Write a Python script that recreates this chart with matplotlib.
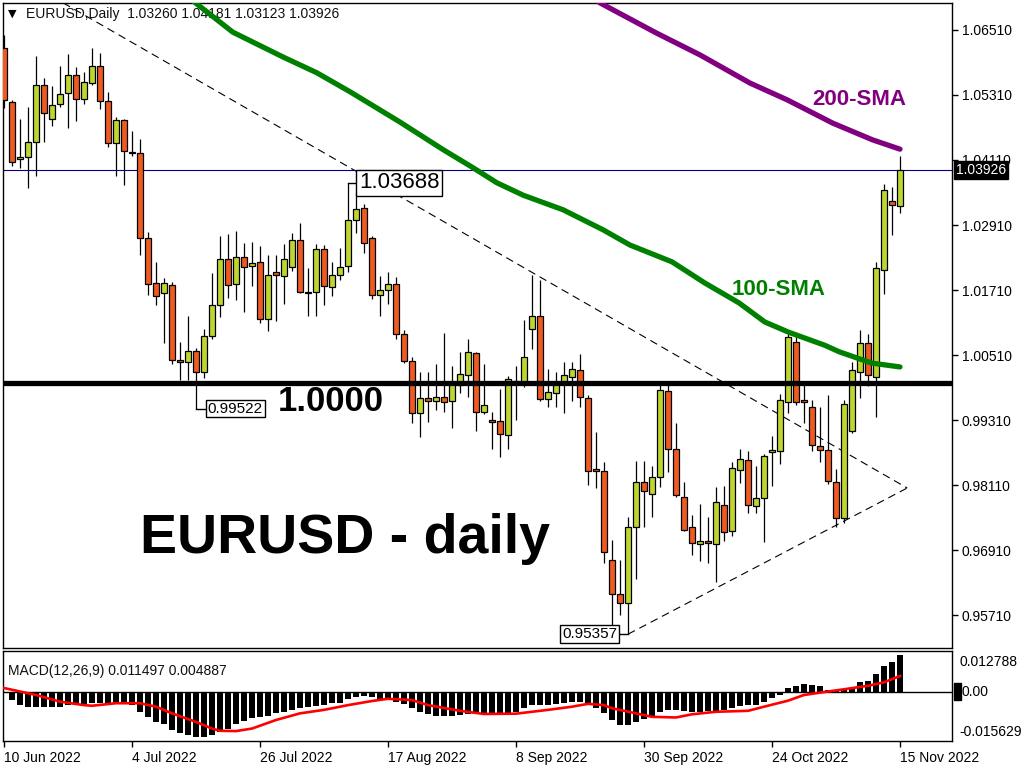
import numpy as np
import matplotlib
matplotlib.use('Agg')
import matplotlib.pyplot as plt
from matplotlib.transforms import blended_transform_factory

plt.rcParams['font.family'] = ['Liberation Sans', 'DejaVu Sans']

# ---- daily OHLC, 10 Jun 2022 .. 15 Nov 2022 (bar index 0..112) ----
opens = [1.0618, 1.0518, 1.0413, 1.0417, 1.0444, 1.0549, 1.0487, 1.0514, 1.0535, 1.0568,
         1.0524, 1.0553, 1.0585, 1.0520, 1.0442, 1.0485, 1.0425, 1.0424, 1.0267, 1.0184,
         1.0166, 1.0180, 1.0042, 1.0038, 1.0058, 1.0020, 1.0086, 1.0143, 1.0228, 1.0182,
         1.0232, 1.0215, 1.0223, 1.0118, 1.0204, 1.0197, 1.0214, 1.0263, 1.0168, 1.0167,
         1.0247, 1.0177, 1.0199, 1.0215, 1.0300, 1.0322, 1.0267, 1.0162, 1.0171, 1.0182,
         1.0090, 1.0040, 0.9944, 0.9972, 0.9966, 0.9974, 0.9966, 0.9996, 1.0014, 1.0055,
         0.9946, 0.9931, 0.9929, 0.9903, 1.0003, 0.9998, 1.0099, 1.0123, 0.9970, 0.9981,
         1.0001, 1.0011, 1.0023, 0.9972, 0.9841, 0.9837, 0.9673, 0.9610, 0.9593, 0.9734,
         0.9817, 0.9795, 0.9826, 0.9985, 0.9878, 0.9789, 0.9734, 0.9702, 0.9708, 0.9702,
         0.9774, 0.9726, 0.9839, 0.9857, 0.9772, 0.9787, 0.9872, 0.9874, 0.9964, 1.0075,
         0.9968, 0.9955, 0.9883, 0.9876, 0.9817, 0.9750, 0.9911, 1.0020, 1.0073, 1.0011,
         1.0208, 1.0335, 1.03260]
highs = [1.0642, 1.0522, 1.0487, 1.0509, 1.0603, 1.0562, 1.0548, 1.0585, 1.0607, 1.0583,
         1.0573, 1.0618, 1.0609, 1.0537, 1.0490, 1.0487, 1.0465, 1.0450, 1.0278, 1.0223,
         1.0193, 1.0186, 1.0075, 1.0123, 1.0064, 1.0099, 1.0202, 1.0271, 1.0274, 1.0280,
         1.0258, 1.0260, 1.0252, 1.0236, 1.0236, 1.0256, 1.0276, 1.0295, 1.0212, 1.0256,
         1.0254, 1.0223, 1.0249, 1.03688, 1.0350, 1.0330, 1.0271, 1.0197, 1.0204, 1.0195,
         1.0097, 1.0047, 1.0020, 1.0020, 1.0034, 1.0092, 1.0031, 1.0057, 1.0081, 1.0057,
         1.0034, 0.9946, 0.9988, 1.0012, 1.0031, 1.0116, 1.0199, 1.0190, 1.0025, 1.0020,
         1.0038, 1.0038, 1.0053, 0.9977, 0.9909, 0.9854, 0.9710, 0.9673, 0.9752, 0.9855,
         0.9855, 0.9846, 0.9999, 0.9999, 0.9926, 0.9817, 0.9756, 0.9776, 0.9752, 0.9807,
         0.9809, 0.9854, 0.9878, 0.9874, 0.9846, 0.9868, 0.9902, 0.9979, 1.0095, 1.0092,
         0.9998, 0.9968, 0.9955, 0.9977, 0.9841, 0.9968, 1.0038, 1.0097, 1.0090, 1.0223,
         1.0367, 1.0361, 1.04181]
lows = [1.0507, 1.0400, 1.0396, 1.0359, 1.0382, 1.0444, 1.0474, 1.0509, 1.0470, 1.0483,
        1.0514, 1.0549, 1.0505, 1.0435, 1.0382, 1.0365, 1.0418, 1.0236, 1.0162, 1.0143,
        1.0073, 1.0034, 1.0005, 1.0005, 0.99522, 1.0009, 1.0081, 1.0121, 1.0156, 1.0153,
        1.0130, 1.0178, 1.0110, 1.0095, 1.0114, 1.0145, 1.0206, 1.0165, 1.0123, 1.0123,
        1.0143, 1.0160, 1.0190, 1.0204, 1.0276, 1.0239, 1.0154, 1.0123, 1.0145, 1.0081,
        1.0036, 0.9926, 0.9900, 0.9927, 0.9950, 0.9946, 0.9916, 0.9981, 0.9974, 0.9911,
        0.9942, 0.9878, 0.9863, 0.9878, 0.9931, 0.9992, 1.0062, 0.9966, 0.9955, 0.9955,
        0.9944, 0.9966, 0.9955, 0.9811, 0.9806, 0.9667, 0.9553, 0.9571, 0.95357, 0.9638,
        0.9734, 0.9752, 0.9807, 0.9835, 0.9789, 0.9726, 0.9682, 0.9671, 0.9667, 0.9632,
        0.9708, 0.9717, 0.9815, 0.9759, 0.9759, 0.9706, 0.9809, 0.9850, 0.9944, 0.9959,
        0.9926, 0.9874, 0.9854, 0.9813, 0.9734, 0.9741, 0.9907, 0.9972, 0.9994, 0.9937,
        1.0164, 1.0273, 1.03123]
closes = [1.0522, 1.0407, 1.0417, 1.0444, 1.0549, 1.0498, 1.0513, 1.0533, 1.0568, 1.0524,
          1.0555, 1.0585, 1.0520, 1.0442, 1.0485, 1.0428, 1.0424, 1.0267, 1.0182, 1.0160,
          1.0184, 1.0042, 1.0038, 1.0058, 1.0020, 1.0086, 1.0143, 1.0228, 1.0180, 1.0232,
          1.0214, 1.0221, 1.0118, 1.0199, 1.0199, 1.0228, 1.0263, 1.0167, 1.0166, 1.0247,
          1.0178, 1.0199, 1.0214, 1.0300, 1.0321, 1.0258, 1.0162, 1.0171, 1.0182, 1.0090,
          1.0040, 0.9944, 0.9972, 0.9966, 0.9974, 0.9964, 1.0000, 1.0016, 1.0057, 0.9946,
          0.9959, 0.9927, 0.9905, 1.0007, 0.9999, 1.0047, 1.0123, 0.9970, 0.9983, 1.0000,
          1.0014, 1.0025, 0.9974, 0.9837, 0.9837, 0.9687, 0.9610, 0.9593, 0.9734, 0.9817,
          0.9800, 0.9826, 0.9986, 0.9878, 0.9793, 0.9728, 0.9704, 0.9708, 0.9704, 0.9780,
          0.9724, 0.9842, 0.9859, 0.9774, 0.9787, 0.9865, 0.9876, 0.9968, 1.0084, 0.9964,
          0.9964, 0.9885, 0.9876, 0.9818, 0.9750, 0.9961, 1.0023, 1.0073, 1.0014, 1.0212,
          1.0356, 1.0328, 1.03926]

# moving averages (read at selected bars)
sma100_idx = [22, 23.5, 28.6, 34.9, 39.1, 43.25, 49.5, 54.9, 58.6, 61.6, 64.9, 69.9, 74.9, 78.25,
              83.5, 87.6, 91.9, 95.1, 98.1, 102.6, 104.4, 108.5, 112]
sma100 = [1.0716, 1.0706, 1.0647, 1.0601, 1.0572, 1.0537, 1.0481, 1.0430, 1.0397, 1.0369, 1.0346,
          1.0319, 1.0282, 1.0254, 1.0223, 1.0184, 1.0147, 1.0112, 1.0093, 1.0069, 1.0057, 1.0036,
          1.0029]
sma200_idx = [73.5, 74.5, 81.6, 87.0, 93.25, 97.9, 103.6, 108.6, 112]
sma200 = [1.0712, 1.0701, 1.0645, 1.0605, 1.0553, 1.0522, 1.0479, 1.0448, 1.0431]

# MACD(12,26,9) main histogram
macd_main = [-0.0003, -0.0027, -0.0043, -0.0048, -0.0048, -0.0048, -0.0048, -0.0048, -0.0043, -0.0043,
             -0.0043, -0.0035, -0.0035, -0.0035, -0.0035, -0.0039, -0.0043, -0.0064, -0.0080, -0.0096,
             -0.0103, -0.0122, -0.0131, -0.0138, -0.0144, -0.0144, -0.0136, -0.0128, -0.0117, -0.0103,
             -0.0094, -0.0085, -0.0082, -0.0078, -0.0069, -0.0064, -0.0058, -0.0053, -0.0048, -0.0045,
             -0.0043, -0.0037, -0.0035, -0.0024, -0.0016, -0.0014, -0.0018, -0.0023, -0.0027, -0.0032,
             -0.0039, -0.0053, -0.0064, -0.0071, -0.0078, -0.0078, -0.0078, -0.0074, -0.0071, -0.0071,
             -0.0071, -0.0071, -0.0071, -0.0071, -0.0064, -0.0053, -0.0043, -0.0043, -0.0043, -0.0039,
             -0.0035, -0.0032, -0.0032, -0.0037, -0.0053, -0.0069, -0.0090, -0.0106, -0.0106, -0.0096,
             -0.0088, -0.0078, -0.0064, -0.0058, -0.0058, -0.0062, -0.0064, -0.0064, -0.0062, -0.0061,
             -0.0058, -0.0053, -0.0046, -0.0043, -0.0043, -0.0032, -0.0021, -0.0011, 0.0011, 0.0018,
             0.0024, 0.0021, 0.0016, 0.0005, 0.0003, 0.0005, 0.0007, 0.0030, 0.0034, 0.0055,
             0.0080, 0.0094, 0.0115]
signal_idx = [0, 2, 4, 7, 10, 11, 14, 17, 19, 21, 24, 26, 27, 29, 31, 34, 37, 40, 43, 46, 48, 51, 53, 57,
              60, 64, 68, 71, 73, 75, 76, 79, 81, 84, 86, 89, 93, 95, 98, 100, 103, 105, 108, 110, 112]
signal = [0.0011, 0.0000, -0.0011, -0.0032, -0.0043, -0.0045, -0.0037, -0.0037, -0.0048, -0.0069,
          -0.0096, -0.0117, -0.0124, -0.0125, -0.0117, -0.0090, -0.0069, -0.0058, -0.0043, -0.0030,
          -0.0023, -0.0027, -0.0043, -0.0061, -0.0071, -0.0070, -0.0058, -0.0048, -0.0039, -0.0043,
          -0.0053, -0.0069, -0.0080, -0.0082, -0.0072, -0.0064, -0.0061, -0.0048, -0.0029, -0.0011,
          0.0000, 0.0007, 0.0018, 0.0029, 0.0049]

# drawn objects: trendlines (bar, price)
upper_trend = ([7.4, 112.9], [1.0701, 0.98055])
lower_trend = ([78, 112.9], [0.95357, 0.98055])
support = 1.0000
last_price = 1.03926

price_ticks = [1.06510, 1.05310, 1.04110, 1.02910, 1.01710, 1.00510, 0.99310, 0.98110, 0.96910, 0.95710]
date_ticks = [0, 16, 32, 48, 64, 80, 96, 112]
date_labels = ['10 Jun 2022', '4 Jul 2022', '26 Jul 2022', '17 Aug 2022', '8 Sep 2022',
               '30 Sep 2022', '24 Oct 2022', '15 Nov 2022']

bull_col = '#bfd630'
bear_col = '#f05a22'

fig = plt.figure(figsize=(10.24, 7.68), dpi=100)
ax = fig.add_axes([3 / 1024, 1 - 648 / 768, 949 / 1024, 645 / 768])
ax2 = fig.add_axes([3 / 1024, 1 - 741 / 768, 949 / 1024, 90 / 768])

idx = np.arange(len(opens))
o = np.array(opens)
c = np.array(closes)
up = c >= o
colors = np.where(up, bull_col, bear_col)

ax.vlines(idx, lows, highs, color='black', lw=0.9, zorder=2)
ax.bar(idx, np.abs(c - o), bottom=np.minimum(o, c), width=0.75, color=colors,
       edgecolor='black', linewidth=0.9, zorder=3)

ax.plot(sma100_idx, sma100, color='#008000', lw=3.8, solid_capstyle='round',
        solid_joinstyle='round', zorder=4)
ax.plot(sma200_idx, sma200, color='#800080', lw=3.8, solid_capstyle='round',
        solid_joinstyle='round', zorder=4)

ax.plot(*upper_trend, color='black', lw=0.8, ls=(0, (7, 4.5)), zorder=1)
ax.plot(*lower_trend, color='black', lw=0.8, ls=(0, (7, 4.5)), zorder=1)

ax.axhline(support, color='black', lw=3.8, zorder=5)
ax.axhline(last_price, color='#000080', lw=0.8, zorder=1)

ax.set_xlim(-0.125, 118.5)
ax.set_ylim(0.95102, 1.07008)
ax.set_xticks([])
ax.yaxis.tick_right()
ax.set_yticks(price_ticks)
ax.set_yticklabels([f'{v:.5f}' for v in price_ticks])
ax.tick_params(axis='y', direction='out', length=4, width=1, labelsize=10, pad=3)

# point labels
box = dict(boxstyle='square,pad=0.12', fc='white', ec='black', lw=1)
ax.plot([43, 44.3], [1.03688, 1.03688], color='black', lw=1, zorder=5)
ax.text(44.35, 1.03688, '1.03688', fontsize=16, va='center', ha='left', bbox=box, zorder=6)
ax.plot([24, 25.4], [0.99522, 0.99522], color='black', lw=1, zorder=5)
ax.text(25.45, 0.99522, '0.99522', fontsize=11, va='center', ha='left', bbox=box, zorder=6)
ax.plot([76.7, 78], [0.95357, 0.95357], color='black', lw=1, zorder=5)
ax.text(76.65, 0.95357, '0.95357', fontsize=11, va='center', ha='right', bbox=box, zorder=6)

ax.text(0.2898, 0.367, '1.0000', transform=ax.transAxes, fontsize=25, fontweight='bold',
        va='baseline', ha='left', zorder=6)
ax.text(0.1444, 0.147, 'EURUSD - daily', transform=ax.transAxes, fontsize=40, fontweight='bold',
        va='baseline', ha='left', zorder=6)
ax.text(0.768, 0.547, '100-SMA', transform=ax.transAxes, fontsize=16, fontweight='bold',
        color='#008000', va='baseline', ha='left', zorder=6)
ax.text(0.8525, 0.842, '200-SMA', transform=ax.transAxes, fontsize=16, fontweight='bold',
        color='#800080', va='baseline', ha='left', zorder=6)

ax.text(0.005, 0.983, '\u25bc', transform=ax.transAxes, fontsize=8, va='center', ha='left',
        family=['DejaVu Sans'])
ax.text(0.024, 0.983, 'EURUSD,Daily  1.03260 1.04181 1.03123 1.03926', transform=ax.transAxes,
        fontsize=10, va='center', ha='left', color='#101010')

trans = blended_transform_factory(ax.transAxes, ax.transData)
ax.text(1.004, last_price, '1.03926', transform=trans, fontsize=10, color='white', va='center',
        ha='left', bbox=dict(boxstyle='square,pad=0.15', fc='black', ec='black'), zorder=7,
        clip_on=False)

# MACD panel
ax2.bar(idx, macd_main, width=0.75, color='black', zorder=2)
ax2.plot(signal_idx, signal, color='red', lw=1.9, zorder=3)
ax2.axhline(0, color='black', lw=1, zorder=1)
ax2.set_xlim(-0.125, 118.5)
ax2.set_ylim(-0.015629, 0.012788)
ax2.set_yticks([])
ax2.set_xticks(date_ticks)
ax2.set_xticklabels(date_labels, ha='left')
ax2.tick_params(axis='x', direction='out', length=4, width=1, labelsize=10, pad=3)
ax2.text(0.005, 0.78, 'MACD(12,26,9) 0.011497 0.004887', transform=ax2.transAxes, fontsize=10,
         va='center', ha='left', color='#101010')
ax2.text(1.008, 0.88, '0.012788', transform=ax2.transAxes, fontsize=10, va='center', ha='left')
ax2.text(1.008, 0.1, '-0.015629', transform=ax2.transAxes, fontsize=10, va='center', ha='left')
trans2 = blended_transform_factory(ax2.transAxes, ax2.transData)
ax2.add_patch(plt.Rectangle((1.002, -0.0026), 0.0075, 0.0052, transform=trans2, color='black',
                            clip_on=False))
ax2.text(1.010, 0, '0.00', transform=trans2, fontsize=10, va='center', ha='left')

for a in (ax, ax2):
    for s in a.spines.values():
        s.set_color('black')
        s.set_linewidth(1)

fig.savefig('out.png', dpi=100)
